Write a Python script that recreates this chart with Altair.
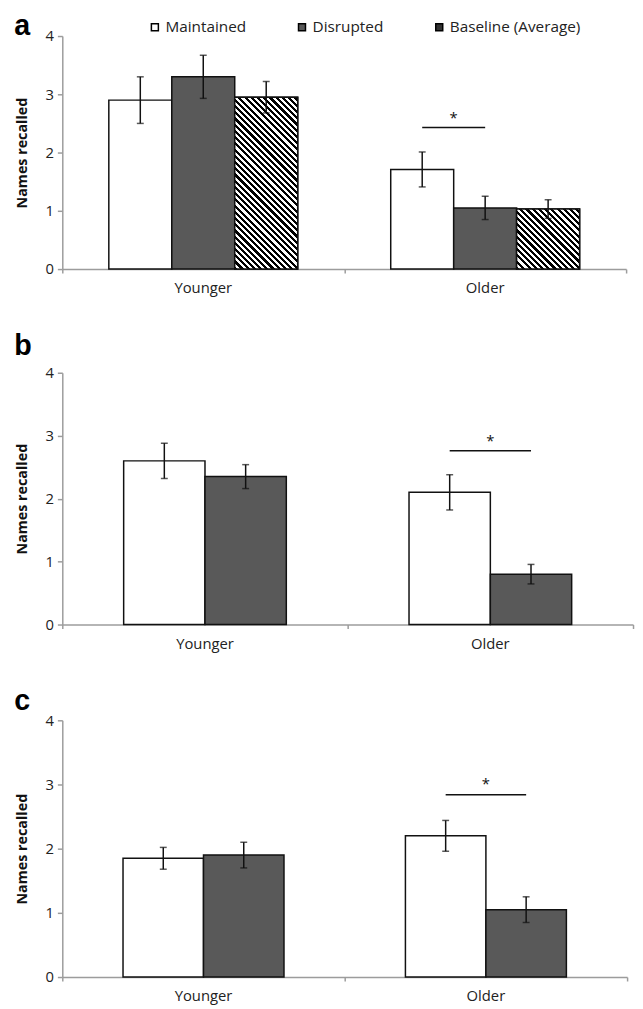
import altair as alt
import pandas as pd

groups = ["Younger", "Older"]
series_a = ["Maintained", "Disrupted", "Baseline (Average)"]
series_bc = ["Maintained", "Disrupted"]

# Panel a
a_younger = [2.90, 3.30, 2.95]
a_younger_err = [0.40, 0.37, 0.27]
a_older = [1.71, 1.05, 1.03]
a_older_err = [0.30, 0.20, 0.16]
a_sig = 2.43
a_star = 2.64

# Panel b
b_younger = [2.60, 2.35]
b_younger_err = [0.28, 0.19]
b_older = [2.10, 0.80]
b_older_err = [0.28, 0.155]
b_sig = 2.76
b_star = 2.96

# Panel c
c_younger = [1.85, 1.90]
c_younger_err = [0.17, 0.20]
c_older = [2.20, 1.05]
c_older_err = [0.24, 0.20]
c_sig = 2.84
c_star = 3.05

FONT = "Open Sans"
INK = "#111111"
AXIS_GREY = "#9c9c9c"


def make_df(series, young, young_err, old, old_err):
    rows = []
    for s, v, e in zip(series, young, young_err):
        rows.append({"group": "Younger", "series": s, "value": v, "err": e})
    for s, v, e in zip(series, old, old_err):
        rows.append({"group": "Older", "series": s, "value": v, "err": e})
    return pd.DataFrame(rows)


def hatch_gradient(w, h, period=6.3):
    total = w + h
    step = period / total
    stops = []
    pos = 0.0
    while pos < 1.0:
        mid = min(pos + 0.5 * step, 1.0)
        end = min(pos + step, 1.0)
        stops += [
            {"offset": round(pos, 5), "color": "#000000"},
            {"offset": round(mid, 5), "color": "#000000"},
            {"offset": round(mid, 5), "color": "#ffffff"},
            {"offset": round(end, 5), "color": "#ffffff"},
        ]
        pos = end
    k = w * (w + h) / (w * w + h * h)
    return {"gradient": "linear", "x1": 0, "y1": 1, "x2": round(k, 5),
            "y2": round(1 - k * h / w, 5), "stops": stops}


def make_panel(label, series, df, width, height, pad, sig_y, star_y, title_offset,
               legend=False, hatch=False):
    df = df.copy()
    df["lo"] = df["value"] - df["err"]
    df["hi"] = df["value"] + df["err"]
    nser = len(series)
    bar_w = (width / 2.0) * (1 - pad) / nser

    x_enc = alt.X("group:N", sort=groups,
                  scale=alt.Scale(domain=groups, paddingInner=pad, paddingOuter=pad / 2),
                  axis=alt.Axis(title=None, orient="bottom", ticks=False, labelAngle=0,
                                labelFont=FONT, labelFontSize=15, labelColor="#222222",
                                labelPadding=12, domainColor=AXIS_GREY, domainWidth=1.5))
    xo_enc = alt.XOffset("series:N", sort=series,
                         scale=alt.Scale(domain=series, paddingInner=0, paddingOuter=0))
    y_enc = alt.Y("value:Q", scale=alt.Scale(domain=[0, 4]),
                  axis=alt.Axis(title="Names recalled", values=[0, 1, 2, 3, 4], format="d",
                                grid=False,
                                labelFont=FONT, labelFontSize=15, labelColor="#222222",
                                labelPadding=4, tickSize=5, tickColor=AXIS_GREY,
                                tickWidth=1.5, domainColor=AXIS_GREY, domainWidth=1.5,
                                titleFont=FONT, titleFontSize=14.5, titleFontWeight="bold",
                                titleColor=INK, titlePadding=16))

    colors = ["#ffffff", "#595959", "#333333"][:nser]
    if legend:
        leg = alt.Legend(orient="none", legendX=86, legendY=-17, direction="horizontal",
                         title=None, symbolType="square", symbolSize=50,
                         symbolStrokeColor="#000000", symbolStrokeWidth=1.5,
                         labelFont=FONT, labelFontSize=15.5, labelColor="#222222",
                         columnPadding=48, labelOffset=3, padding=0)
    else:
        leg = None
    fill_enc = alt.Fill("series:N", sort=series,
                        scale=alt.Scale(domain=series, range=colors), legend=leg)

    base = alt.Chart(df)
    bars = base.mark_bar(stroke=INK, strokeWidth=1.5).encode(
        x=x_enc, xOffset=xo_enc, y=y_enc, fill=fill_enc)
    layers = [bars]

    if hatch:
        for g in groups:
            v = float(df[(df["group"] == g) & (df["series"] == series[-1])]["value"].iloc[0])
            h = v * height / 4.0
            grad = hatch_gradient(bar_w, h)
            hb = base.transform_filter(
                (alt.datum.group == g) & (alt.datum.series == series[-1])
            ).mark_bar(fill=grad, stroke=INK, strokeWidth=1.5).encode(
                x=x_enc, xOffset=xo_enc, y=y_enc)
            layers.append(hb)

    err_rule = base.mark_rule(color=INK, strokeWidth=1.5).encode(
        x=x_enc, xOffset=xo_enc, y="lo:Q", y2="hi:Q")
    cap_lo = base.mark_tick(color=INK, thickness=1.5, size=7).encode(
        x=x_enc, xOffset=xo_enc, y="lo:Q")
    cap_hi = base.mark_tick(color=INK, thickness=1.5, size=7).encode(
        x=x_enc, xOffset=xo_enc, y="hi:Q")
    layers += [err_rule, cap_lo, cap_hi]

    sig_df = pd.DataFrame({"group": ["Older", "Older"],
                           "series": [series[0], series[1]],
                           "value": [sig_y, sig_y]})
    sig_line = alt.Chart(sig_df).mark_line(color=INK, strokeWidth=1.5).encode(
        x=x_enc, xOffset=xo_enc, y="value:Q")
    star_df = pd.DataFrame({"group": ["Older"], "series": [series[0]],
                            "value": [star_y], "txt": ["*"]})
    star = alt.Chart(star_df).mark_text(font=FONT, fontSize=15, color=INK,
                                        dx=bar_w / 2, dy=3, baseline="middle").encode(
        x=x_enc, xOffset=xo_enc, y="value:Q", text="txt:N")
    layers += [sig_line, star]

    inner = alt.layer(*layers)

    # category-boundary ticks (Excel style) on a full-step band scale
    tick_layer = base.mark_point(opacity=0).encode(
        x=alt.X("group:N", sort=groups,
                scale=alt.Scale(domain=groups, paddingInner=0, paddingOuter=0),
                axis=alt.Axis(title=None, orient="bottom", labels=False, domain=False,
                              tickBand="extent", tickSize=4, tickColor=AXIS_GREY,
                              tickWidth=1.5)),
        y=y_enc)

    return alt.layer(inner, tick_layer).resolve_scale(x="independent").properties(
        width=width, height=height,
        title=alt.TitleParams(text=label, anchor="start", frame="bounds",
                              font="Liberation Sans", fontSize=29, fontWeight="bold",
                              color="#000000", offset=title_offset)
    )


df_a = make_df(series_a, a_younger, a_younger_err, a_older, a_older_err)
df_b = make_df(series_bc, b_younger, b_younger_err, b_older, b_older_err)
df_c = make_df(series_bc, c_younger, c_younger_err, c_older, c_older_err)

pa = make_panel("a", series_a, df_a, 571, 236, 0.33, a_sig, a_star, -22,
                legend=True, hatch=True)
pb = make_panel("b", series_bc, df_b, 578, 255, 0.43, b_sig, b_star, 5)
pc = make_panel("c", series_bc, df_c, 572, 260, 0.43, c_sig, c_star, -3)

chart = alt.vconcat(pa, pb, pc, spacing=35).resolve_scale(
    x="independent", y="independent", xOffset="independent", fill="independent"
).resolve_legend(fill="independent").properties(
    padding={"left": 5, "top": -3, "right": 0, "bottom": 0}
).configure_view(stroke="transparent")

chart.save("out.html", embed_options={"renderer": "svg", "actions": False})
